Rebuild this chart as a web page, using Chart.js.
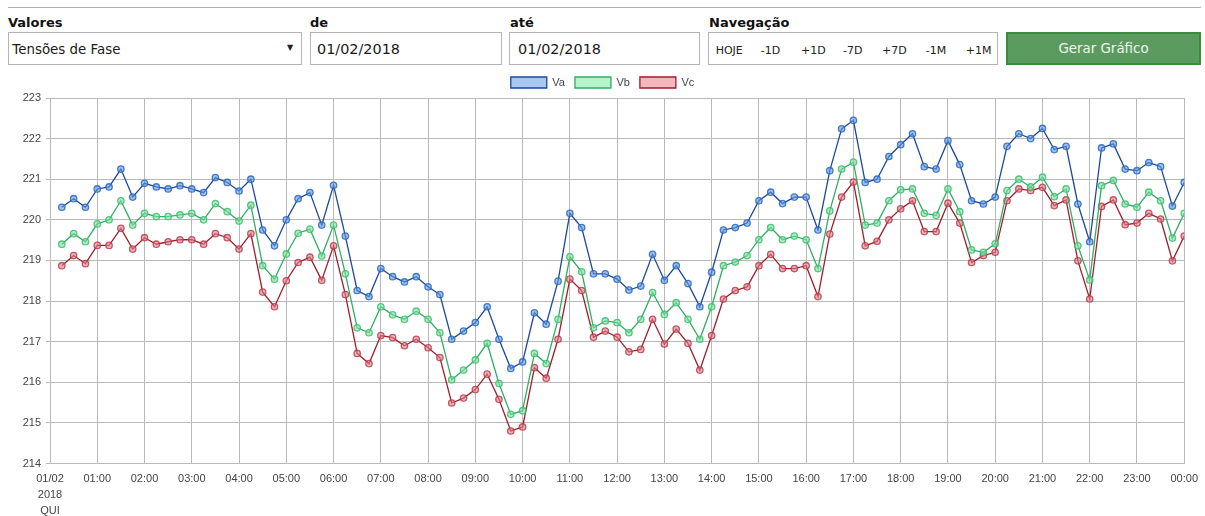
<!DOCTYPE html>
<html>
<head>
<meta charset="utf-8">
<script src="https://cdn.jsdelivr.net/npm/chart.js@4.4.1/dist/chart.umd.min.js"></script>
<style>
  html,body{margin:0;padding:0;background:#fff;width:1205px;height:516px;overflow:hidden;}
  .abs{position:absolute;white-space:nowrap;}
  .lbl{font-family:"DejaVu Sans",Verdana,sans-serif;font-weight:bold;font-size:13px;line-height:16px;color:#111;top:14.5px;}
  .box{border:1px solid #b4b4b4;box-sizing:border-box;background:#fff;}
  .t{font-family:"DejaVu Sans",Verdana,sans-serif;color:#1a1a1a;}
  .nav{font-family:"DejaVu Sans",Verdana,sans-serif;font-size:11px;line-height:13px;top:43.7px;color:#222;}
</style>
</head>
<body>
<div class="abs" style="left:8px;top:7px;width:1193px;height:1px;background:#b0b0b0;"></div>

<div class="abs lbl" style="left:8px;">Valores</div>
<div class="abs lbl" style="left:310px;">de</div>
<div class="abs lbl" style="left:510px;">até</div>
<div class="abs lbl" style="left:709px;">Navegação</div>

<div class="abs box" style="left:8px;top:31.5px;width:294px;height:33px;"></div>
<div class="abs t" style="left:12.3px;top:42.4px;font-size:13.4px;line-height:16px;">Tensões de Fase</div>
<div class="abs t" style="left:287px;top:42px;font-size:8px;line-height:12px;color:#222;">▼</div>

<div class="abs box" style="left:310px;top:31.5px;width:192px;height:33px;"></div>
<div class="abs t" style="left:317px;top:40.5px;font-size:14.4px;line-height:17px;">01/02/2018</div>

<div class="abs box" style="left:509px;top:31.5px;width:191px;height:33px;"></div>
<div class="abs t" style="left:518px;top:40.5px;font-size:14.4px;line-height:17px;">01/02/2018</div>

<div class="abs box" style="left:708px;top:31.5px;width:290px;height:33px;"></div>
<div class="abs nav" style="left:715.7px;">HOJE</div>
<div class="abs nav" style="left:760.7px;">-1D</div>
<div class="abs nav" style="left:801px;">+1D</div>
<div class="abs nav" style="left:843px;">-7D</div>
<div class="abs nav" style="left:882px;">+7D</div>
<div class="abs nav" style="left:925.7px;">-1M</div>
<div class="abs nav" style="left:965.7px;">+1M</div>

<div class="abs" style="left:1006px;top:31.5px;width:195px;height:33.5px;box-sizing:border-box;border:2px solid #3b8b3f;background:#5c9b5f;"></div>
<div class="abs t" style="left:1006px;width:195px;text-align:center;top:40.9px;font-size:13.4px;line-height:16px;color:#eef7ee;">Gerar Gráfico</div>

<div class="abs" style="left:0;top:67px;width:1205px;height:449px;">
  <canvas id="c"></canvas>
</div>

<script>
const times = ["00:15","00:30","00:45","01:00","01:15","01:30","01:45","02:00","02:15","02:30","02:45","03:00",
"03:15","03:30","03:45","04:00","04:15","04:30","04:45","05:00","05:15","05:30","05:45","06:00",
"06:15","06:30","06:45","07:00","07:15","07:30","07:45","08:00","08:15","08:30","08:45","09:00",
"09:15","09:30","09:45","10:00","10:15","10:30","10:45","11:00","11:15","11:30","11:45","12:00",
"12:15","12:30","12:45","13:00","13:15","13:30","13:45","14:00","14:15","14:30","14:45","15:00",
"15:15","15:30","15:45","16:00","16:15","16:30","16:45","17:00","17:15","17:30","17:45","18:00",
"18:15","18:30","18:45","19:00","19:15","19:30","19:45","20:00","20:15","20:30","20:45","21:00",
"21:15","21:30","21:45","22:00","22:15","22:30","22:45","23:00","23:15","23:30","23:45","24:00"];

const va = [220.31,220.52,220.31,220.76,220.81,221.25,220.56,220.90,220.81,220.76,220.84,220.76,
220.67,221.04,220.92,220.71,221.00,219.75,219.36,220.00,220.52,220.67,219.87,220.85,
219.60,218.26,218.11,218.80,218.60,218.47,218.60,218.35,218.16,217.06,217.26,217.47,
217.86,217.06,216.34,216.50,217.71,217.43,218.49,220.16,219.81,218.67,218.67,218.54,
218.27,218.37,219.15,218.51,218.87,218.43,217.86,218.71,219.75,219.81,219.92,220.47,
220.68,220.40,220.56,220.56,219.75,221.21,222.24,222.45,220.92,221.00,221.56,221.85,
222.12,221.31,221.25,221.95,221.36,220.47,220.39,220.56,221.81,222.12,222.00,222.25,
221.73,221.81,220.39,219.46,221.77,221.87,221.25,221.21,221.41,221.31,220.34,220.92];

const vb = [219.40,219.66,219.46,219.90,220.00,220.47,219.87,220.16,220.08,220.08,220.12,220.16,
220.00,220.40,220.20,219.97,220.36,218.87,218.54,219.16,219.67,219.77,219.11,219.87,
218.67,217.34,217.22,217.86,217.66,217.55,217.75,217.55,217.22,216.06,216.30,216.55,
216.96,215.97,215.21,215.30,216.71,216.46,217.55,219.09,218.72,217.34,217.51,217.47,
217.22,217.55,218.21,217.67,217.96,217.55,217.06,217.86,218.87,218.96,219.12,219.51,
219.81,219.51,219.60,219.51,218.80,220.22,221.25,221.42,219.87,219.92,220.47,220.74,
220.76,220.16,220.11,220.76,220.20,219.26,219.20,219.41,220.72,221.00,220.81,221.05,
220.57,220.76,219.36,218.52,220.84,220.97,220.39,220.31,220.68,220.47,219.55,220.16];

const vc = [218.87,219.12,218.92,219.37,219.37,219.79,219.28,219.56,219.40,219.46,219.51,219.51,
219.40,219.66,219.56,219.28,219.66,218.22,217.86,218.50,218.95,219.08,218.51,219.36,
218.16,216.71,216.46,217.15,217.10,216.90,217.06,216.85,216.61,215.49,215.61,215.82,
216.20,215.58,214.80,214.90,216.36,216.10,217.06,218.54,218.26,217.11,217.26,217.11,
216.75,216.81,217.55,216.94,217.31,216.96,216.30,217.15,218.05,218.26,218.35,218.87,
219.15,218.80,218.80,218.87,218.11,219.65,220.56,220.93,219.36,219.47,220.00,220.27,
220.47,219.71,219.71,220.41,219.92,218.95,219.12,219.20,220.47,220.76,220.72,220.80,
220.35,220.49,218.99,218.05,220.33,220.49,219.88,219.92,220.16,220.02,218.99,219.60];

const hourLabels = [["01/02","2018","QUI"],"01:00","02:00","03:00","04:00","05:00","06:00","07:00","08:00",
"09:00","10:00","11:00","12:00","13:00","14:00","15:00","16:00","17:00","18:00","19:00","20:00",
"21:00","22:00","23:00","00:00"];

const seriesNames = ["Va","Vb","Vc"];

function toMin(t){ const p = t.split(":"); return (+p[0])*60 + (+p[1]); }
function pts(arr){ return arr.map((v,i)=>({x: toMin(times[i]), y: v})); }

const styles = [
  {line:'#1b4a98', fill:'#a9c8f1', pBorder:'rgba(40,105,195,0.85)', pFill:'rgba(100,150,220,0.6)'},
  {line:'#2fae62', fill:'#b6f4cc', pBorder:'rgba(60,190,110,0.85)', pFill:'rgba(130,220,160,0.6)'},
  {line:'#a01d2b', fill:'#f6b6bd', pBorder:'rgba(180,55,70,0.8)', pFill:'rgba(220,125,135,0.6)'}
];
const allData = [va, vb, vc];

const datasets = allData.map((arr, k) => ({
  label: seriesNames[k],
  data: pts(arr),
  borderColor: styles[k].line,
  backgroundColor: styles[k].fill,
  borderWidth: 1.3,
  fill: false,
  tension: 0,
  pointRadius: 3.2,
  pointBorderWidth: 1.3,
  pointBorderColor: styles[k].pBorder,
  pointBackgroundColor: styles[k].pFill,
  pointStyle: 'circle'
}));

const gridColor = '#b9b9b9';
new Chart(document.getElementById('c'), {
  type: 'line',
  data: { datasets },
  options: {
    responsive: true,
    maintainAspectRatio: false,
    animation: false,
    layout: { padding: { left: 20, right: 20, top: 0, bottom: 0 } },
    plugins: {
      legend: {
        display: true,
        position: 'top',
        labels: {
          boxWidth: 36, boxHeight: 11, padding: 10,
          color: '#444',
          font: { family: '"Liberation Sans", Arial, sans-serif', size: 11 }
        }
      },
      tooltip: { enabled: false }
    },
    scales: {
      x: {
        type: 'linear',
        min: 0, max: 1440,
        afterFit: (s) => { s.height = 52.5; },
        afterBuildTicks: (s) => { s.ticks = hourLabels.map((_, i) => ({ value: i * 60 })); },
        ticks: {
          autoSkip: false, maxRotation: 0, padding: 7,
          color: '#444',
          font: { family: '"Liberation Sans", Arial, sans-serif', size: 11, lineHeight: 1.48 },
          callback: (v) => hourLabels[Math.round(v / 60)]
        },
        grid: { color: gridColor, drawTicks: false, lineWidth: 1 },
        border: { color: gridColor }
      },
      y: {
        min: 214, max: 223,
        afterFit: (s) => { s.width = 30; },
        ticks: {
          stepSize: 1, padding: 5,
          color: '#444',
          font: { family: '"Liberation Sans", Arial, sans-serif', size: 11 }
        },
        grid: { color: gridColor, tickLength: 4, lineWidth: 1 },
        border: { color: gridColor }
      }
    }
  }
});
</script>
</body>
</html>
